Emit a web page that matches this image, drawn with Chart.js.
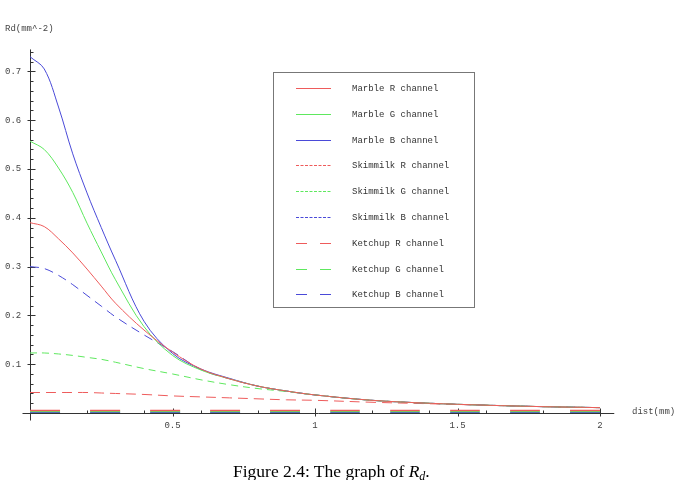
<!DOCTYPE html>
<html>
<head>
<meta charset="utf-8">
<script src="https://cdn.jsdelivr.net/npm/chart.js@4.4.0/dist/chart.umd.min.js"></script>
<style>
  html, body { margin: 0; padding: 0; background: #fff; }
  #wrap { position: relative; width: 682px; height: 480px; overflow: hidden; }
  #caption {
    position: absolute; left: 233px; top: 462px;
    font-family: "Liberation Serif", "Times New Roman", serif;
    font-size: 17.5px; line-height: 18px; color: #000; white-space: nowrap;
  }
  #caption sub { font-size: 12px; vertical-align: -3px; line-height: 0; }
</style>
</head>
<body>
<div id="wrap">
  <canvas id="myChart" width="682" height="480"></canvas>
  <div id="caption">Figure 2.4: The graph of <i>R</i><sub><i>d</i></sub>.</div>
</div>
<script>
// distance along the surface (mm)
const dist = [0, 0.05, 0.1, 0.15, 0.2, 0.25, 0.3, 0.4, 0.5, 0.6, 0.7, 0.8, 0.9, 1.0, 1.2, 1.4, 1.6, 1.8, 2.0];

const marbleR   = [0.39, 0.382, 0.357, 0.328, 0.295, 0.26, 0.225, 0.17, 0.125, 0.09, 0.07, 0.055, 0.045, 0.037, 0.026, 0.02, 0.016, 0.013, 0.011];
const marbleG   = [0.557, 0.54, 0.502, 0.452, 0.389, 0.33, 0.273, 0.177, 0.118, 0.088, 0.07, 0.055, 0.045, 0.037, 0.026, 0.02, 0.016, 0.013, 0.011];
const marbleB   = [0.73, 0.705, 0.627, 0.531, 0.451, 0.38, 0.313, 0.188, 0.122, 0.09, 0.071, 0.055, 0.045, 0.037, 0.026, 0.02, 0.016, 0.013, 0.011];
const skimmilkR = [0.005, 0.005, 0.005, 0.005, 0.005, 0.005, 0.005, 0.005, 0.005, 0.005, 0.005, 0.005, 0.005, 0.005, 0.005, 0.005, 0.005, 0.005, 0.005];
const skimmilkG = [0.003, 0.003, 0.003, 0.003, 0.003, 0.003, 0.003, 0.003, 0.003, 0.003, 0.003, 0.003, 0.003, 0.003, 0.003, 0.003, 0.003, 0.003, 0.003];
const skimmilkB = [0.001, 0.001, 0.001, 0.001, 0.001, 0.001, 0.001, 0.001, 0.001, 0.001, 0.001, 0.001, 0.001, 0.001, 0.001, 0.001, 0.001, 0.001, 0.001];
const ketchupR  = [0.042, 0.042, 0.042, 0.042, 0.042, 0.041, 0.040, 0.038, 0.035, 0.033, 0.031, 0.029, 0.027, 0.026, 0.022, 0.019, 0.016, 0.013, 0.011];
const ketchupG  = [0.123, 0.123, 0.121, 0.118, 0.114, 0.110, 0.104, 0.091, 0.080, 0.068, 0.058, 0.050, 0.044, 0.037, 0.026, 0.02, 0.016, 0.013, 0.011];
const ketchupB  = [0.30, 0.296, 0.282, 0.263, 0.241, 0.219, 0.197, 0.16, 0.126, 0.089, 0.07, 0.055, 0.045, 0.037, 0.026, 0.02, 0.016, 0.013, 0.011];

const xTickLabels = ['0.5', '1', '1.5', '2'];
const yTickLabels = ['0.1', '0.2', '0.3', '0.4', '0.5', '0.6', '0.7'];

const RED = '#ee5b5b', GREEN = '#5ee85e', BLUE = '#4a4ad8';
const MONO = '"Liberation Mono", "DejaVu Sans Mono", monospace';

function pts(arr) {
    return dist.map(function(d, i) { return { x: d, y: arr[i] }; });
}

function series(label, arr, color, dash, legendDash, width) {
    return {
        label: label,
        data: pts(arr),
        borderColor: color,
        borderWidth: width || 1,
        borderDash: dash,
        legendDash: legendDash,
        pointRadius: 0,
        fill: false,
        tension: 0.35
    };
}

// axes, ticks and labels drawn under the curves
const axesPlugin = {
    id: 'mmaAxes',
    beforeDatasetsDraw(chart) {
        const ctx = chart.ctx;
        const xs = chart.scales.x, ys = chart.scales.y;
        const x0 = Math.round(xs.getPixelForValue(0)) + 0.5;
        const y0 = Math.round(ys.getPixelForValue(0)) + 0.5;
        ctx.save();
        ctx.strokeStyle = '#333';
        ctx.lineWidth = 1;
        ctx.beginPath();
        ctx.moveTo(x0, ys.getPixelForValue(0.745));
        ctx.lineTo(x0, y0 + 7);
        ctx.moveTo(x0 - 8, y0);
        ctx.lineTo(xs.getPixelForValue(2.05), y0);
        ctx.stroke();

        // y ticks every 0.02, major every 0.1
        ctx.beginPath();
        for (let k = 1; k <= 37; k++) {
            const py = Math.round(ys.getPixelForValue(k * 0.02)) + 0.5;
            const major = k % 5 === 0;
            ctx.moveTo(x0 - (major ? 3 : 0), py);
            ctx.lineTo(x0 + (major ? 5 : 3), py);
        }
        // x ticks every 0.1, major every 0.5
        for (let k = 1; k <= 20; k++) {
            const px = Math.round(xs.getPixelForValue(k * 0.1)) + 0.5;
            const major = k % 5 === 0;
            ctx.moveTo(px, y0 + (major ? 3 : 0));
            ctx.lineTo(px, y0 - (major ? 5 : 3));
        }
        ctx.stroke();

        ctx.fillStyle = '#444';
        ctx.font = '9px ' + MONO;
        ctx.textBaseline = 'middle';
        ctx.textAlign = 'left';
        yTickLabels.forEach(function(t) {
            ctx.fillText(t, 5, ys.getPixelForValue(parseFloat(t)));
        });
        ctx.textAlign = 'center';
        xTickLabels.forEach(function(t) {
            ctx.fillText(t, xs.getPixelForValue(parseFloat(t)), y0 + 12);
        });
        ctx.textAlign = 'left';
        ctx.fillText('Rd(mm^-2)', 5, 29);
        ctx.fillText('dist(mm)', 632, y0 - 2);
        ctx.restore();
    }
};

// boxed legend like the Mathematica one
const legendPlugin = {
    id: 'boxLegend',
    afterDraw(chart) {
        const ctx = chart.ctx;
        ctx.save();
        ctx.strokeStyle = '#777';
        ctx.lineWidth = 1;
        ctx.strokeRect(273.5, 72.5, 201, 235);
        ctx.font = '9px ' + MONO;
        ctx.textBaseline = 'middle';
        chart.data.datasets.forEach(function(ds, i) {
            const y = Math.round(88 + i * 25.8) + 0.5;
            ctx.strokeStyle = ds.borderColor;
            ctx.lineWidth = 1;
            ctx.setLineDash(ds.legendDash);
            ctx.beginPath();
            ctx.moveTo(296, y);
            ctx.lineTo(331, y);
            ctx.stroke();
            ctx.setLineDash([]);
            ctx.fillStyle = '#333';
            ctx.fillText(ds.label, 352, y);
        });
        ctx.restore();
    }
};

new Chart(document.getElementById('myChart').getContext('2d'), {
    type: 'line',
    data: {
        datasets: [
            series('Marble R channel', marbleR, RED, [], []),
            series('Marble G channel', marbleG, GREEN, [], []),
            series('Marble B channel', marbleB, BLUE, [], []),
            series('Skimmilk R channel', skimmilkR, RED, [30, 30], [3, 1.5], 1.5),
            series('Skimmilk G channel', skimmilkG, GREEN, [30, 30], [3, 1.5], 1.5),
            series('Skimmilk B channel', skimmilkB, BLUE, [30, 30], [3, 1.5], 1.5),
            series('Ketchup R channel', ketchupR, RED, [10, 6], [11, 13]),
            series('Ketchup G channel', ketchupG, GREEN, [7, 5], [11, 13]),
            series('Ketchup B channel', ketchupB, BLUE, [9, 6], [11, 13])
        ]
    },
    options: {
        responsive: false,
        animation: false,
        layout: { padding: { left: 30, right: 82, top: 47, bottom: 67 } },
        plugins: { legend: { display: false }, tooltip: { enabled: false } },
        scales: {
            x: { type: 'linear', min: 0, max: 2, display: false },
            y: { type: 'linear', min: 0, max: 0.75, display: false }
        }
    },
    plugins: [axesPlugin, legendPlugin]
});
</script>
</body>
</html>
